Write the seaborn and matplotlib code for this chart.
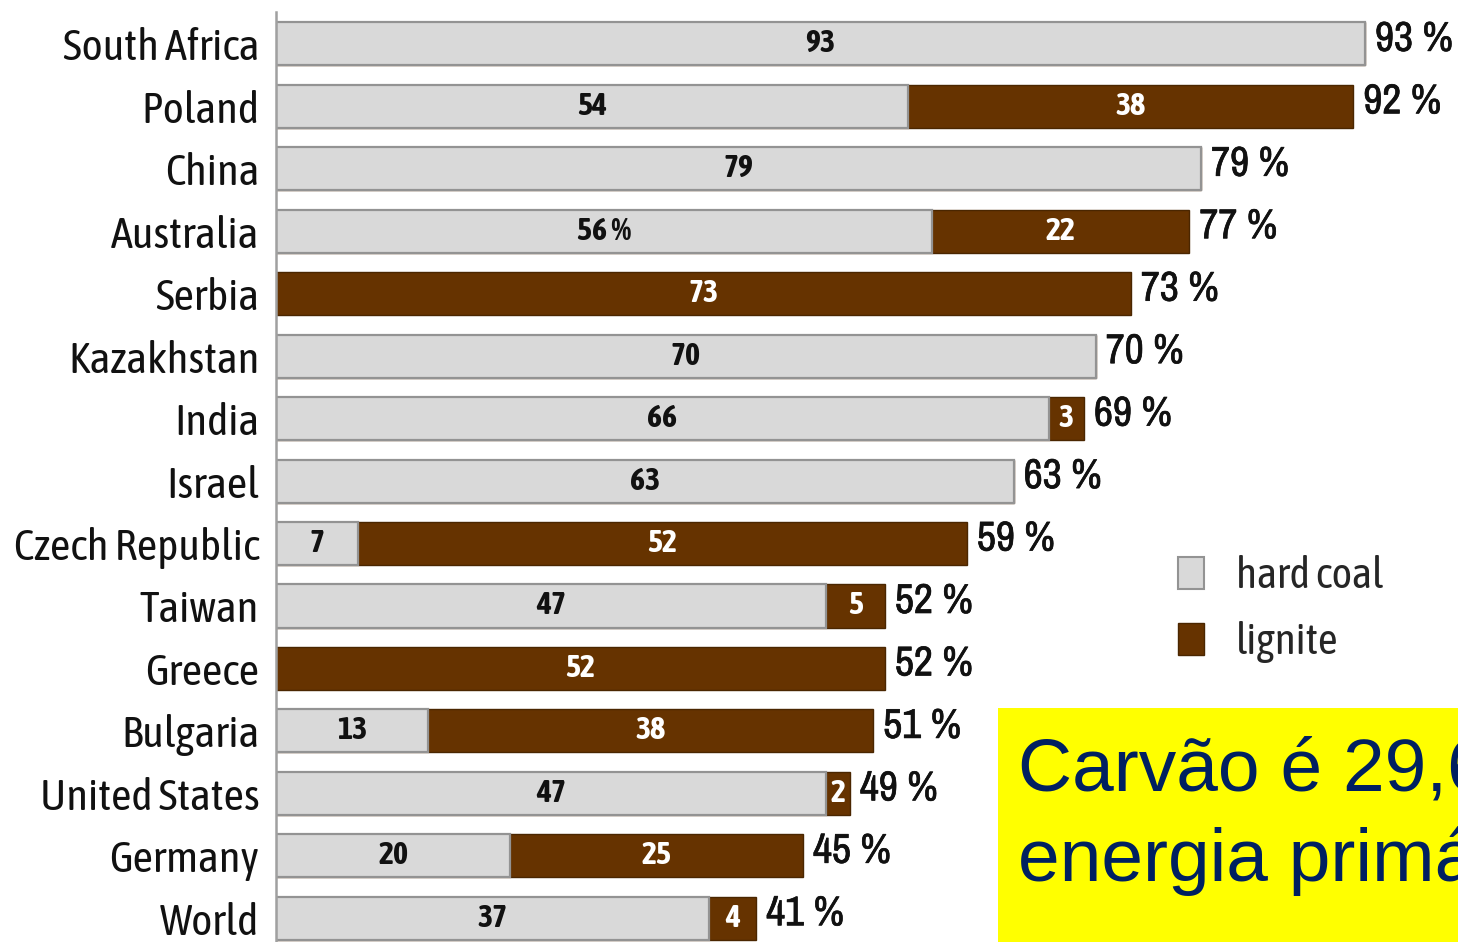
import matplotlib
matplotlib.use("Agg")
import matplotlib.pyplot as plt
import matplotlib.patheffects as pe
import seaborn as sns
from matplotlib.patches import Rectangle, Patch

countries = ["South Africa", "Poland", "China", "Australia", "Serbia", "Kazakhstan",
             "India", "Israel", "Czech Republic", "Taiwan", "Greece", "Bulgaria",
             "United States", "Germany", "World"]
hard_coal = [93, 54, 79, 56, 0, 70, 66, 63, 7, 47, 0, 13, 47, 20, 37]
lignite = [0, 38, 0, 22, 73, 0, 3, 0, 52, 5, 52, 38, 2, 25, 4]
total_labels = ["93 %", "92 %", "79 %", "77 %", "73 %", "70 %", "69 %", "63 %",
                "59 %", "52 %", "52 %", "51 %", "49 %", "45 %", "41 %"]
hard_labels = ["93", "54", "79", "56 %", "", "70", "66", "63", "7", "47", "", "13", "47", "20", "37"]
legend_names = ["hard coal", "lignite"]
box_text = "Carvão é 29,6% da\nenergia primária"

GRAY = "#d9d9d9"
GRAY_EDGE = "#939393"
BROWN = "#663300"
LABEL_FONT = ["Asap Condensed", "Archivo Narrow", "DejaVu Sans"]
NUM_FONT = ["Liberation Sans Narrow", "Archivo Narrow", "Asap Condensed", "DejaVu Sans"]

sns.set_theme(style="white")
plt.rcParams["font.family"] = LABEL_FONT

fig = plt.figure(figsize=(14.58, 9.42), dpi=100)
ax = fig.add_axes([276 / 1458, 0.0, 1 - 276 / 1458, 1 - 12 / 942])

stack = [h + l for h, l in zip(hard_coal, lignite)]
sns.barplot(x=stack, y=countries, orient="h", color=BROWN, saturation=1,
            width=0.69, edgecolor="#4a2600", linewidth=1.0, ax=ax)
sns.barplot(x=hard_coal, y=countries, orient="h", color=GRAY, saturation=1,
            width=0.69, edgecolor=GRAY_EDGE, linewidth=1.6, ax=ax)
for p in list(ax.patches):
    if p.get_width() == 0:
        p.remove()

ax.set_xlim(0, (1458 - 276) / 11.71)
ax.set_ylim(14.38, -0.51)
ax.set_xlabel("")
ax.set_ylabel("")
ax.set_xticks([])
for s in ["top", "right", "bottom"]:
    ax.spines[s].set_visible(False)
ax.spines["left"].set_color("#a0a0a0")
ax.spines["left"].set_linewidth(1.8)
ax.tick_params(axis="y", length=0, pad=12, labelsize=32)
for t in ax.get_yticklabels():
    t.set_family(LABEL_FONT)
    t.set_color("#111111")

bold_fx = [pe.withStroke(linewidth=0.5, foreground="#111111")]
for i in range(len(countries)):
    h, l = hard_coal[i], lignite[i]
    if h > 0 and hard_labels[i]:
        ax.text(h / 2, i, hard_labels[i], ha="center", va="center", fontsize=23,
                fontweight="bold", color="#111111", family=LABEL_FONT)
    if l > 0:
        ax.text(h + l / 2, i, str(l), ha="center", va="center", fontsize=23,
                fontweight="bold", color="white", family=LABEL_FONT)
    ax.text(h + l + 0.85, i - 0.08, total_labels[i], ha="left", va="center",
            fontsize=30, color="#111111", family=NUM_FONT, path_effects=bold_fx)

handles = [Patch(facecolor=GRAY, edgecolor=GRAY_EDGE, linewidth=1.5),
           Patch(facecolor=BROWN, edgecolor="#4a2600", linewidth=1.0)]
leg = fig.legend(handles, legend_names, loc="upper left",
                 bbox_to_anchor=(1178 / 1458, 1 - 555 / 942), frameon=False,
                 borderpad=0, borderaxespad=0,
                 prop={"family": LABEL_FONT, "size": 31}, handlelength=0.6,
                 handleheight=0.77, handletextpad=0.75, labelspacing=0.56)

fig.patches.append(Rectangle((998 / 1458, 0), 1 - 998 / 1458, (942 - 708) / 942,
                             transform=fig.transFigure, facecolor="#ffff00",
                             edgecolor="none", zorder=5))
fig.text(1018 / 1458, 1 - 736 / 942, box_text, ha="left", va="top",
         fontsize=54, color="#002060", family=["Liberation Sans", "DejaVu Sans"],
         linespacing=1.38, zorder=6)

fig.savefig("out.png", dpi=100)
